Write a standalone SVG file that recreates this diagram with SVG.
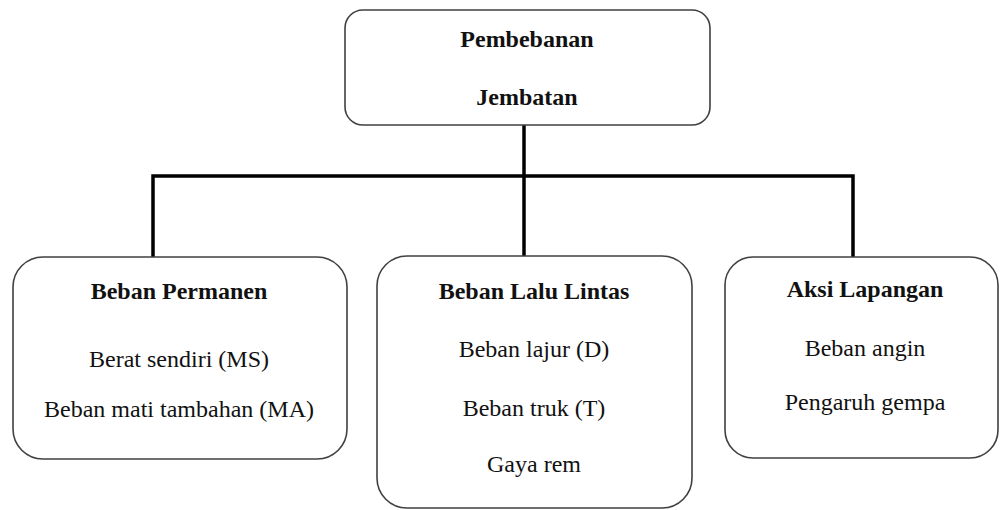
<svg xmlns="http://www.w3.org/2000/svg" width="1000" height="510" viewBox="0 0 1000 510">
<style>
.box{fill:#fff;stroke:#404040;stroke-width:1.6}
.t{font-family:'Liberation Serif','DejaVu Serif',serif;font-size:24px;fill:#111;text-anchor:middle}
.b{font-weight:bold}
.c{stroke:#000;stroke-width:3.5;fill:none}
</style>
<rect width="1000" height="510" fill="#fff"/>
<g id="connectors">
<line class="c" x1="524" y1="125" x2="524" y2="257"/>
<polyline class="c" points="153,258 153,176 853,176 853,258"/>
</g>
<g id="root">
<rect class="box" x="345" y="10" width="365" height="115" rx="18"/>
<text class="t b" x="527" y="47">Pembebanan</text>
<text class="t b" x="527" y="105">Jembatan</text>
</g>
<g id="permanen">
<rect class="box" x="13" y="257" width="334" height="202" rx="30"/>
<text class="t b" x="179" y="299">Beban Permanen</text>
<text class="t" x="179" y="367">Berat sendiri (MS)</text>
<text class="t" x="179" y="417">Beban mati tambahan (MA)</text>
</g>
<g id="lalulintas">
<rect class="box" x="377" y="256" width="315" height="252" rx="30"/>
<text class="t b" x="534" y="299">Beban Lalu Lintas</text>
<text class="t" x="534" y="357">Beban lajur (D)</text>
<text class="t" x="534" y="416">Beban truk (T)</text>
<text class="t" x="534" y="472">Gaya rem</text>
</g>
<g id="aksi">
<rect class="box" x="725" y="257" width="273" height="201" rx="28"/>
<text class="t b" x="865" y="297">Aksi Lapangan</text>
<text class="t" x="865" y="356">Beban angin</text>
<text class="t" x="865" y="410">Pengaruh gempa</text>
</g>
</svg>
